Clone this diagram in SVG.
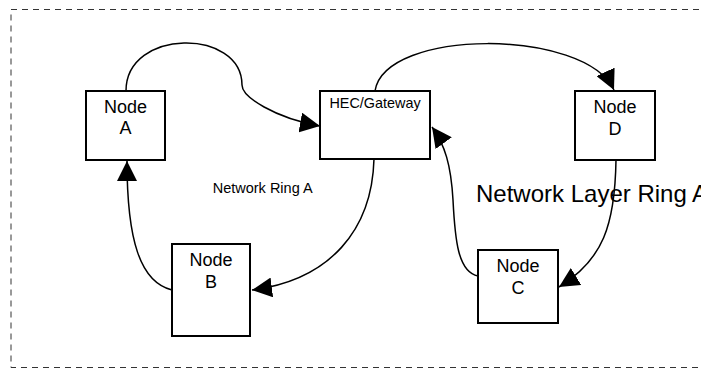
<svg xmlns="http://www.w3.org/2000/svg" width="716" height="369" viewBox="0 0 716 369">
<style>
.node{fill:#fff;stroke:#000;stroke-width:2}
.lbl{font-family:"Liberation Sans",Arial,sans-serif;font-size:18px;fill:#000;text-anchor:middle}
.conn path{fill:none;stroke:#000;stroke-width:1.5;marker-end:url(#arr)}
.txt{font-family:"Liberation Sans",Arial,sans-serif;fill:#000}
</style>
<defs>
<marker id="arr" markerUnits="userSpaceOnUse" markerWidth="20" markerHeight="20" refX="20" refY="10" orient="auto" viewBox="0 0 20 20">
<path d="M0,0 L20,10 L0,20 z" fill="#000"/>
</marker>
<clipPath id="clip"><rect x="0" y="0" width="701" height="369"/></clipPath>
</defs>
<rect width="716" height="369" fill="#fff"/>
<g clip-path="url(#clip)">
<rect id="frame" x="11" y="9.5" width="720" height="358" fill="none" stroke="#333" stroke-width="1" stroke-dasharray="6 5"/>
<g class="conn" id="connectors">
<path d="M126,91 C126,28 242,28 242,85 C242,97 275,118 320,126"/>
<path d="M375,91 C385,28 585,28 614,90"/>
<path d="M374,159 C372,230 330,280 252,290"/>
<path d="M172,290 C140,282 127,240 127,161"/>
<path d="M478,276 C458,272 455,240 453,200 C451,165 445,145 432,127"/>
<path d="M616,160 C615,225 603,260 559,287"/>
</g>
<g id="nodeA"><rect class="node" x="86" y="91" width="79" height="69"/><text class="lbl" x="125.5" y="112.5">Node</text><text class="lbl" x="125.5" y="133.5">A</text></g>
<g id="hec"><rect class="node" x="320" y="91" width="110" height="68"/><text class="txt" x="375" y="108.3" font-size="14.4" text-anchor="middle">HEC/Gateway</text></g>
<g id="nodeD"><rect class="node" x="575" y="91" width="80" height="69"/><text class="lbl" x="615" y="113">Node</text><text class="lbl" x="615" y="134.5">D</text></g>
<g id="nodeB"><rect class="node" x="172" y="244" width="78" height="92"/><text class="lbl" x="211" y="266">Node</text><text class="lbl" x="211" y="288">B</text></g>
<g id="nodeC"><rect class="node" x="478" y="250" width="80" height="73"/><text class="lbl" x="518" y="272">Node</text><text class="lbl" x="518" y="293.5">C</text></g>
<text class="txt" x="212.7" y="193.3" font-size="14.5">Network Ring A</text>
<text class="txt" x="476" y="201.7" font-size="24">Network Layer Ring A</text>
</g>
</svg>
